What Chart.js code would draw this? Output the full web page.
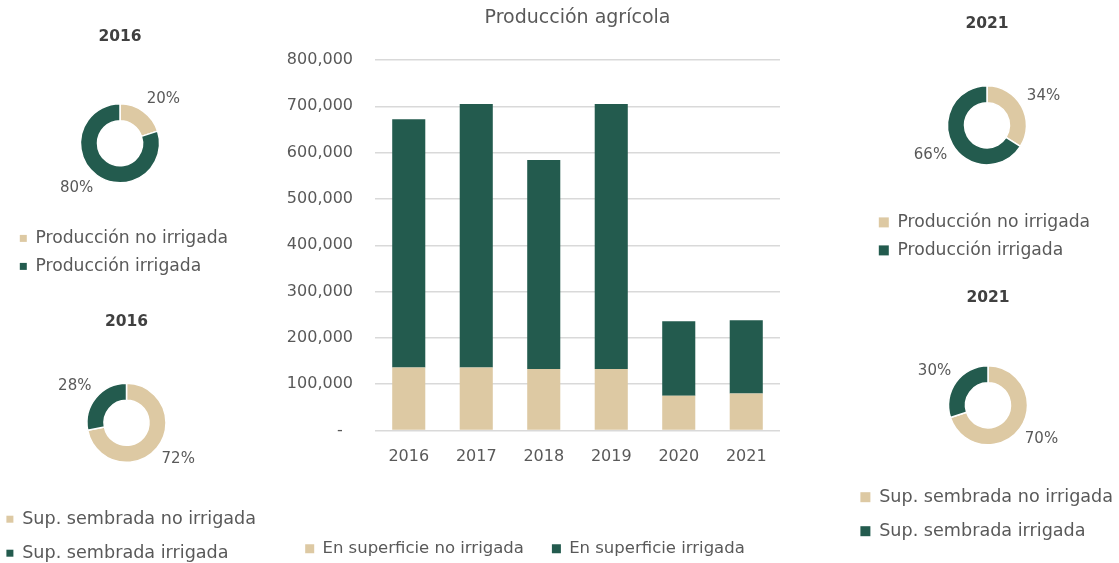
<!DOCTYPE html>
<html>
<head>
<meta charset="utf-8">
<script src="https://cdn.jsdelivr.net/npm/chart.js@4.4.1/dist/chart.umd.min.js"></script>
<style>
  html, body { margin: 0; padding: 0; background: #fff; overflow: hidden; width: 1119px; height: 563px; }
  canvas { position: absolute; }
</style>
</head>
<body>
<canvas id="bars" width="540" height="567" style="left:270px;top:0"></canvas>
<canvas id="prod2016" width="242" height="285" style="left:-1px;top:0"></canvas>
<canvas id="sup2016" width="283" height="282" style="left:-15px;top:290px"></canvas>
<canvas id="prod2021" width="238" height="269" style="left:868px;top:0"></canvas>
<canvas id="sup2021" width="288" height="270" style="left:844px;top:280px"></canvas>
<script>
// bar chart data
const years = ['2016', '2017', '2018', '2019', '2020', '2021'];
const noIrrigada = [136000, 136000, 133000, 133000, 75000, 80000];
const irrigada = [536000, 569000, 451000, 572000, 161000, 158000];

// doughnuts (percent)
const prodLabels = ['Producción no irrigada', 'Producción irrigada'];
const supLabels = ['Sup. sembrada no irrigada', 'Sup. sembrada irrigada'];
const prod2016 = [20, 80];
const sup2016 = [72, 28];
const prod2021 = [34, 66];
const sup2021 = [70, 30];

const green = '#235B4E';
const beige = '#DDC9A3';
const grey = '#595959';

Chart.defaults.font.family = '"DejaVu Sans", sans-serif';
Chart.defaults.color = grey;
Chart.defaults.animation = false;

new Chart(document.getElementById('bars'), {
  type: 'bar',
  data: {
    labels: years,
    datasets: [
      { label: 'En superficie no irrigada', data: noIrrigada, backgroundColor: beige },
      { label: 'En superficie irrigada', data: irrigada, backgroundColor: green }
    ]
  },
  options: {
    responsive: false,
    layout: { padding: { left: 0, right: 30, top: 0, bottom: 0 } },
    datasets: { bar: { categoryPercentage: 1, barPercentage: 0.49 } },
    scales: {
      x: {
        stacked: true,
        grid: { display: false },
        border: { display: false },
        ticks: { padding: 9, font: { size: 16 }, color: grey },
        afterFit: (s) => { s.height = 82; }
      },
      y: {
        stacked: true,
        min: 0,
        max: 800000,
        border: { display: false },
        grid: { color: '#d9d9d9', lineWidth: 1.5, drawTicks: false },
        ticks: {
          stepSize: 100000,
          padding: 22,
          font: { size: 16 },
          color: grey,
          callback: (v) => v === 0 ? '-  ' : v.toLocaleString('en-US')
        },
        afterFit: (s) => { s.width = 105; }
      }
    },
    plugins: {
      title: {
        display: true,
        fullSize: false,
        text: 'Producción agrícola',
        color: grey,
        font: { size: 19, weight: 'normal' },
        padding: { top: 6.6, bottom: 30.6 }
      },
      legend: {
        position: 'bottom',
        labels: { boxWidth: 9, boxHeight: 9, padding: 28, font: { size: 16.5 }, color: grey }
      },
      tooltip: { enabled: false }
    }
  }
});

// percentage labels placed just outside each slice, anchored by their inner corner
const pctLabels = {
  id: 'pctLabels',
  afterDatasetsDraw(chart) {
    const ctx = chart.ctx;
    const values = chart.data.datasets[0].data;
    ctx.save();
    ctx.font = '15px "DejaVu Sans"';
    ctx.fillStyle = grey;
    chart.getDatasetMeta(0).data.forEach((arc, i) => {
      const p = arc.getProps(['x', 'y', 'startAngle', 'endAngle', 'outerRadius']);
      const mid = (p.startAngle + p.endAngle) / 2;
      const r = p.outerRadius + 6;
      const cx = Math.cos(mid), cy = Math.sin(mid);
      ctx.textAlign = cx >= 0 ? 'left' : 'right';
      ctx.textBaseline = cy >= 0 ? 'top' : 'bottom';
      ctx.fillText(values[i] + '%', p.x + cx * r, p.y + cy * r);
    });
    ctx.restore();
  }
};

function donut(id, title, labels, values, box, fontSize, legendPad, titlePad, sidePad) {
  new Chart(document.getElementById(id), {
    type: 'doughnut',
    data: {
      labels: labels,
      datasets: [{
        data: values,
        backgroundColor: [beige, green],
        borderColor: '#fff',
        borderWidth: 1.5,
        radius: 39.5,
        cutout: '57%'
      }]
    },
    plugins: [pctLabels],
    options: {
      responsive: false,
      layout: { padding: { left: sidePad, right: sidePad, top: 0, bottom: 0 } },
      plugins: {
        title: {
          display: true,
          text: title,
          color: '#404040',
          font: { size: 15.5, weight: 'bold' },
          padding: titlePad
        },
        legend: {
          position: 'bottom',
          align: 'start',
          labels: {
            boxWidth: box,
            boxHeight: box,
            padding: legendPad,
            font: { size: fontSize },
            color: grey,
            generateLabels: (c) => Chart.overrides.doughnut.plugins.legend.labels.generateLabels(c)
              .map(l => Object.assign(l, { lineWidth: 0 }))
          }
        },
        tooltip: { enabled: false }
      }
    }
  });
}

donut('prod2016', '2016', prodLabels, prod2016, 7, 17.2, 10.8, { top: 28, bottom: 21 }, 10);
donut('sup2016', '2016', supLabels, sup2016, 7, 17.6, 16.4, { top: 23, bottom: 20 }, 5);
donut('prod2021', '2021', prodLabels, prod2021, 10, 17.2, 10.8, { top: 15, bottom: 14 }, 0);
donut('sup2021', '2021', supLabels, sup2021, 10, 17.6, 16.4, { top: 9, bottom: 31 }, 0);
</script>
</body>
</html>
